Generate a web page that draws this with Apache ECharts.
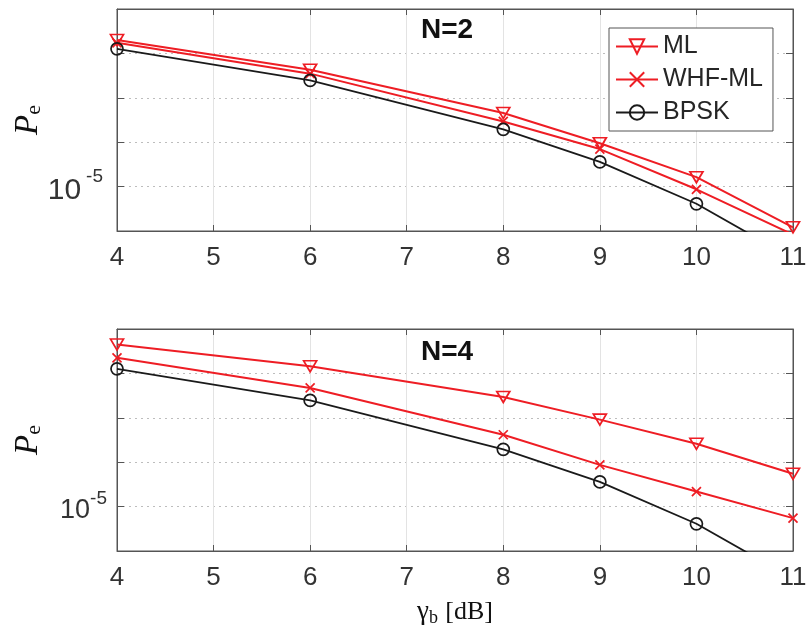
<!DOCTYPE html>
<html><head><meta charset="utf-8">
<script src="https://cdn.jsdelivr.net/npm/echarts@6/dist/echarts.min.js"></script>
<style>html,body{margin:0;padding:0;background:#fff}#c{width:810px;height:636px}</style>
</head><body><div id="c"></div>
<script>
// ---- data ----
const snrDb = [4, 6, 8, 9, 10, 11];
const seriesNames = ['ML', 'WHF-ML', 'BPSK'];
const titles = ['N=2', 'N=4'];
// N = 2
const mlN2   = [0.0200, 4.3e-3, 4.55e-4, 9.5e-5, 1.63e-5, 1.21e-6];
const whfN2  = [0.0173, 3.5e-3, 2.93e-4, 7.0e-5, 8.7e-6, 8.3e-7];
// N = 4
const mlN4   = [0.0447, 0.0145, 2.95e-3, 9.1e-4, 2.6e-4, 5.5e-5];
const whfN4  = [0.0224, 4.7e-3, 4.15e-4, 8.7e-5, 2.18e-5, 5.5e-6];
// BPSK reference (same in both panels)
const bpsk   = [0.0127, 2.46e-3, 1.95e-4, 3.6e-5, 4.1e-6, 2.4e-7];
const yMin = 1e-6, yMax = 1e-1;
const xMin = 4, xMax = 11;

const SANS = "'Liberation Sans', Arial, Helvetica, sans-serif";
const SERIF = "'Liberation Serif', 'Times New Roman', serif";
const RED = '#ee1d24', BLACK = '#1a1a1a', AXIS = '#555', TXT = '#333';
const triDown = 'path://M0,0 L20,0 L10,17 Z';
const cross = 'path://M0,0 L10,10 M10,0 L0,10';

const grids = [
  {left: 117, top: 9, width: 676, height: 222},
  {left: 117, top: 329, width: 676, height: 222}
].map(g => Object.assign(g, {show: true, borderColor: AXIS, borderWidth: 1, backgroundColor: '#fff',
  containLabel: false, outerBoundsMode: 'none'}));

const xAxes = [], yAxes = [];
[0, 1].forEach(i => {
  xAxes.push({
    gridIndex: i, type: 'value', min: xMin, max: xMax, interval: 1, position: 'bottom',
    axisLine: {show: true, onZero: false, lineStyle: {color: AXIS, width: 1}},
    axisTick: {show: true, inside: true, length: 6, lineStyle: {color: AXIS}},
    axisLabel: {fontSize: 26, color: TXT, margin: 14, fontFamily: SANS},
    splitLine: {show: true, lineStyle: {color: '#e3e3e3', width: 1}},
    name: i === 1 ? '{g|γ}{s|b} {t|[dB]}' : '',
    nameLocation: 'middle', nameGap: 46, nameMoveOverlap: false,
    nameTextStyle: {
      rich: {
        g: {fontFamily: SERIF, fontSize: 27, color: '#111'},
        s: {fontFamily: SERIF, fontSize: 18, color: '#111', verticalAlign: 'bottom', padding: [12, 4, 0, 0]},
        t: {fontFamily: SERIF, fontSize: 26, color: '#111'}
      }
    }
  });
  xAxes.push({
    gridIndex: i, type: 'value', min: xMin, max: xMax, interval: 1, position: 'top',
    axisLine: {show: true, onZero: false, lineStyle: {color: AXIS}},
    axisTick: {show: true, inside: true, length: 6, lineStyle: {color: AXIS}},
    axisLabel: {show: false}, splitLine: {show: false}
  });
  const top = i === 0;
  yAxes.push({
    gridIndex: i, type: 'log', logBase: 10, min: yMin, max: yMax, position: 'left',
    axisLine: {show: true, onZero: false, lineStyle: {color: AXIS}},
    axisTick: {show: true, inside: true, length: 7, lineStyle: {color: AXIS}},
    axisLabel: {
      margin: top ? 14 : 10,
      formatter: v => Math.abs(Math.log10(v) + 5) < 1e-6 ? '{b|10}{s|-5}' : '',
      rich: {
        b: {fontFamily: SANS, fontSize: top ? 30 : 27, color: TXT, padding: [8, 0, 0, 0]},
        s: {fontFamily: SANS, fontSize: 19, color: TXT, verticalAlign: 'top', padding: [0, 0, 0, top ? 5 : 0]}
      }
    },
    splitLine: {show: true, lineStyle: {color: '#bdbdbd', type: [2, 4], width: 1}},
    name: '{p|P}{e|e}', nameLocation: 'middle', nameRotate: 90, nameGap: 72, nameMoveOverlap: false,
    nameTextStyle: {
      rich: {
        p: {fontFamily: SERIF, fontStyle: 'italic', fontSize: 33, color: '#111'},
        e: {fontFamily: SERIF, fontSize: 22, color: '#111', verticalAlign: 'bottom'}
      }
    }
  });
  yAxes.push({
    gridIndex: i, type: 'log', logBase: 10, min: yMin, max: yMax, position: 'right',
    axisLine: {show: true, onZero: false, lineStyle: {color: AXIS}},
    axisTick: {show: true, inside: true, length: 7, lineStyle: {color: AXIS}},
    axisLabel: {show: false}, splitLine: {show: false}
  });
});

function pts(ys) { return snrDb.map((x, k) => [x, ys[k]]); }
function mk(name, ys, gi, symbol, size, color, lw) {
  return {
    name, type: 'line', xAxisIndex: gi * 2, yAxisIndex: gi * 2, data: pts(ys),
    symbol, symbolSize: size, showSymbol: true, clip: true, z: 3,
    lineStyle: {color, width: lw},
    itemStyle: {color: 'rgba(255,255,255,0)', borderColor: color, borderWidth: 1.7},
    emphasis: {disabled: true}, silent: true
  };
}
function refLine(gi) {
  return {
    type: 'line', xAxisIndex: gi * 2, yAxisIndex: gi * 2, data: [], z: 1, silent: true,
    markLine: {silent: true, symbol: 'none', label: {show: false}, animation: false,
      lineStyle: {color: '#e3e3e3', type: 'solid', width: 1.2}, data: [{yAxis: 1e-5}]}
  };
}

const series = [
  refLine(0), refLine(1),
  mk(seriesNames[0], mlN2, 0, triDown, [13, 11], RED, 2),
  mk(seriesNames[1], whfN2, 0, cross, 9, RED, 2),
  mk(seriesNames[2], bpsk, 0, 'circle', 12, BLACK, 1.8),
  mk(seriesNames[0], mlN4, 1, triDown, [13, 11], RED, 2),
  mk(seriesNames[1], whfN4, 1, cross, 9, RED, 2),
  mk(seriesNames[2], bpsk, 1, 'circle', 12, BLACK, 1.8)
];

const chart = echarts.init(document.getElementById('c'), null, {renderer: 'canvas'});
chart.setOption({
  animation: false,
  backgroundColor: '#fff',
  grid: grids, xAxis: xAxes, yAxis: yAxes, series,
  legend: {
    data: seriesNames, orient: 'vertical', left: 609, top: 28,
    itemWidth: 42, itemHeight: 18, itemGap: 8, padding: [6, 10, 6, 6],
    borderColor: AXIS, borderWidth: 1, backgroundColor: '#fff', borderRadius: 0,
    selectedMode: false,
    textStyle: {fontSize: 25, color: '#262626', fontFamily: SANS}
  },
  graphic: [
    {type: 'text', x: 447, y: 30, z: 10, style: {text: titles[0], font: 'bold 28px ' + SANS, fill: '#111', align: 'center', verticalAlign: 'middle'}},
    {type: 'text', x: 447, y: 352, z: 10, style: {text: titles[1], font: 'bold 28px ' + SANS, fill: '#111', align: 'center', verticalAlign: 'middle'}}
  ]
});
</script></body></html>
